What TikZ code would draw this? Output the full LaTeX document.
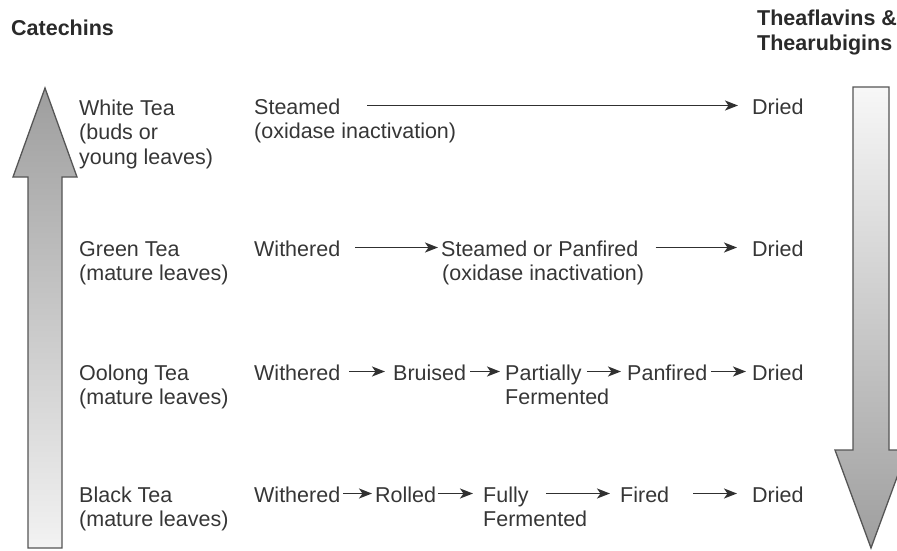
\documentclass[tikz,border=0pt]{standalone}
\usepackage{fontspec}
\setmainfont{Liberation Sans}
\usetikzlibrary{arrows.meta}
\definecolor{txt}{HTML}{363636}
\definecolor{hdtxt}{HTML}{2A2A2A}
\definecolor{edge}{HTML}{555555}
\definecolor{arrcol}{HTML}{303030}
\begin{document}
\begin{tikzpicture}[x=1pt,y=-1pt,
  lbl/.style={anchor=base west, inner sep=0pt, text height=17pt, text depth=0pt,
    font=\fontsize{21.5}{24.5}\selectfont, text=txt},
  hd/.style={anchor=base west, inner sep=0pt,
    font=\fontsize{21.5}{24.5}\selectfont\bfseries, text=hdtxt},
  arr/.style={-{Stealth[length=13pt,width=10pt,inset=3.5pt]}, line width=1.8pt, draw=arrcol},
  bigarrow/.style={draw=edge, line width=1.3pt, line join=miter}]
\useasboundingbox (0,0) rectangle (897,550);
\clip (0,0) rectangle (897,550);

% big gradient arrows
\path[bigarrow, top color=black!38, bottom color=black!5]
  (45,88) -- (77,177) -- (62,177) -- (62,548) -- (28,548) -- (28,177) -- (13,177) -- cycle;
\path[bigarrow, top color=black!3, bottom color=black!38]
  (853,87) -- (889,87) -- (889,450) -- (907,450) -- (871,548) -- (835,450) -- (853,450) -- cycle;

% headings
\node[hd] (cat) at (11,35) {Catechins};
\node[hd] (thf) at (757,25) {Theaflavins \&};
\node[hd] (thr) at (757,50) {Thearubigins};

% tea types
\node[lbl] (white)  at (79,115)   {White Tea};
\node[lbl] (white2) at (79,139.5) {(buds or};
\node[lbl] (white3) at (79,164)   {young leaves)};
\node[lbl] (green)  at (79,256)   {Green Tea};
\node[lbl] (green2) at (79,280.5) {(mature leaves)};
\node[lbl] (oolong) at (79,380)   {Oolong Tea};
\node[lbl] (oolong2) at (79,404.5) {(mature leaves)};
\node[lbl] (black)  at (79,502)   {Black Tea};
\node[lbl] (black2) at (79,526.5) {(mature leaves)};

% row 1
\node[lbl] (st1)  at (254,114)   {Steamed};
\node[lbl] (st1b) at (254,138.5) {(oxidase inactivation)};
\node[lbl] (dr1)  at (752,114)   {Dried};
\draw[arr, shorten <=27pt, shorten >=14pt] (st1.east) -- (dr1.west);

% row 2
\node[lbl] (w2)   at (254,256)   {Withered};
\node[lbl] (sp2)  at (441,256)   {Steamed or Panfired};
\node[lbl] (sp2b) at (442,280.5) {(oxidase inactivation)};
\node[lbl] (dr2)  at (752,256)   {Dried};
\draw[arr, shorten <=15pt, shorten >=3pt] (w2.east) -- (sp2.west);
\draw[arr, shorten <=17pt, shorten >=15pt] (sp2.east) -- (dr2.west);

% row 3
\node[lbl] (w3)   at (254,380)   {Withered};
\node[lbl] (br3)  at (393,380)   {Bruised};
\node[lbl] (pa3)  at (505,380)   {Partially};
\node[lbl] (pa3b) at (505,404.5) {Fermented};
\node[lbl] (pf3)  at (627,380)   {Panfired};
\node[lbl] (dr3)  at (752,380)   {Dried};
\draw[arr, shorten <=9pt, shorten >=8pt] (w3.east) -- (br3.west);
\draw[arr, shorten <=4pt, shorten >=5pt] (br3.east) -- (pa3.west);
\draw[arr, shorten <=5pt, shorten >=6pt] (pa3.east) -- (pf3.west);
\draw[arr, shorten <=4pt, shorten >=6pt] (pf3.east) -- (dr3.west);

% row 4
\node[lbl] (w4)   at (254,502)   {Withered};
\node[lbl] (ro4)  at (375,502)   {Rolled};
\node[lbl] (fu4)  at (483,502)   {Fully};
\node[lbl] (fu4b) at (483,526.5) {Fermented};
\node[lbl] (fi4)  at (620,502)   {Fired};
\node[lbl] (dr4)  at (752,502)   {Dried};
\draw[arr, shorten <=3pt, shorten >=3pt] (w4.east) -- (ro4.west);
\draw[arr, shorten <=2pt, shorten >=10pt] (ro4.east) -- (fu4.west);
\draw[arr, shorten <=17pt, shorten >=10pt] (fu4.east) -- (fi4.west);
\draw[arr, shorten <=24pt, shorten >=15pt] (fi4.east) -- (dr4.west);
\end{tikzpicture}
\end{document}
